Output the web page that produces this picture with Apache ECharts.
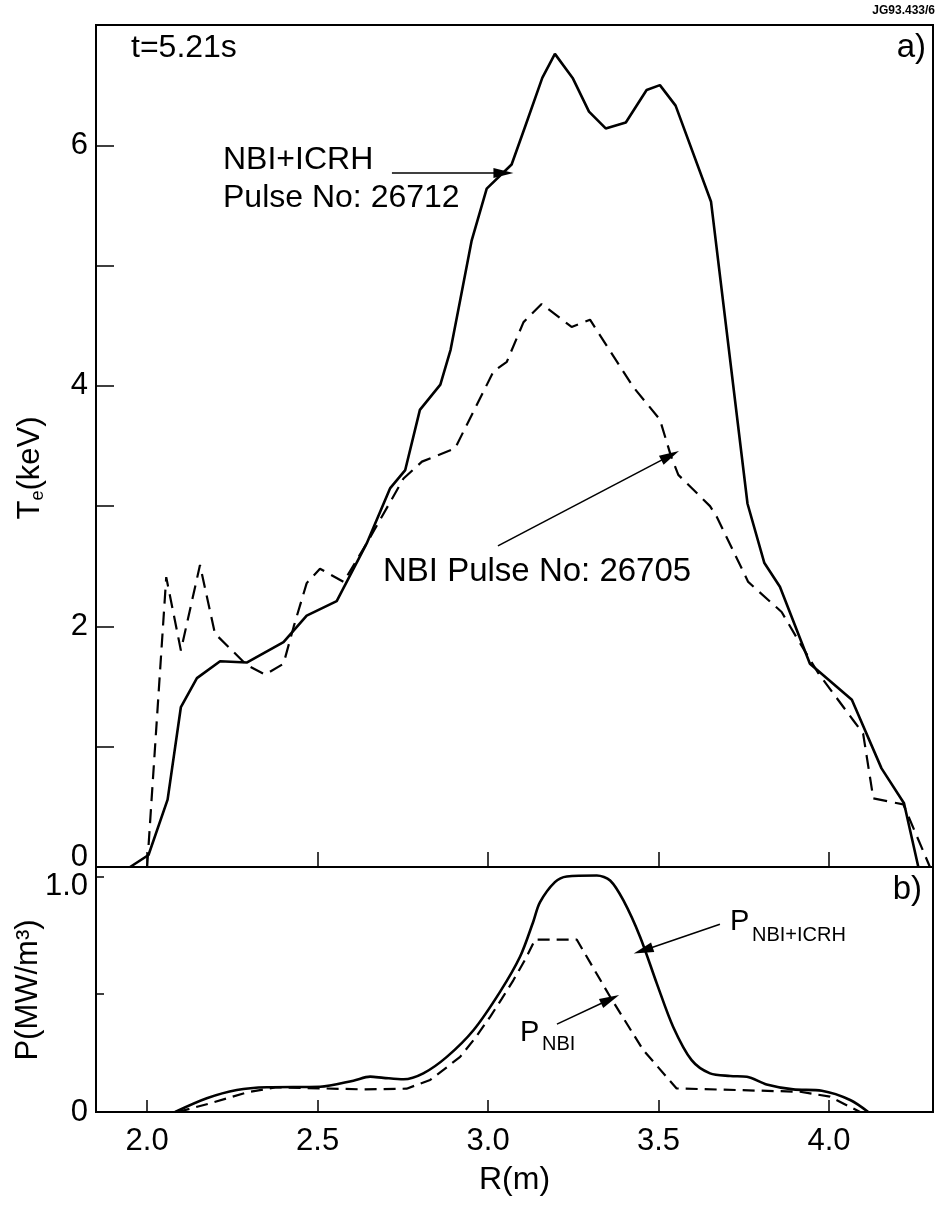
<!DOCTYPE html>
<html>
<head>
<meta charset="utf-8">
<script src="https://cdn.jsdelivr.net/npm/echarts@6/dist/echarts.min.js"></script>
<style>
html,body{margin:0;padding:0;background:#fff;}
#chart{width:937px;height:1205px;}
</style>
</head>
<body>
<div id="chart"></div>
<script>
// ---- data ----
// (a) electron temperature profiles
const R_ICRH  = [1.95, 2.004, 2.06, 2.099, 2.146, 2.214, 2.292, 2.40, 2.468, 2.556, 2.644, 2.713, 2.757, 2.80, 2.86, 2.89, 2.918, 2.952, 2.996, 3.069, 3.108, 3.159, 3.196, 3.248, 3.296, 3.345, 3.404, 3.465, 3.504, 3.55, 3.654, 3.761, 3.81, 3.856, 3.944, 4.067, 4.154, 4.22, 4.262];
const TE_ICRH = [0.0, 0.10, 0.56, 1.33, 1.57, 1.71, 1.70, 1.87, 2.09, 2.21, 2.69, 3.15, 3.30, 3.80, 4.01, 4.30, 4.71, 5.21, 5.64, 5.84, 6.15, 6.56, 6.76, 6.56, 6.28, 6.14, 6.19, 6.46, 6.50, 6.33, 5.53, 3.02, 2.53, 2.33, 1.69, 1.39, 0.82, 0.53, 0.0];

const R_NBI  = [2.0, 2.056, 2.099, 2.155, 2.199, 2.292, 2.346, 2.40, 2.43, 2.468, 2.507, 2.576, 2.644, 2.752, 2.806, 2.903, 3.016, 3.055, 3.104, 3.157, 3.245, 3.299, 3.426, 3.504, 3.536, 3.558, 3.651, 3.671, 3.763, 3.861, 3.915, 3.969, 4.071, 4.10, 4.13, 4.218, 4.296];
const TE_NBI = [0.0, 2.41, 1.80, 2.51, 1.94, 1.68, 1.60, 1.69, 2.00, 2.36, 2.48, 2.37, 2.69, 3.23, 3.37, 3.48, 4.12, 4.20, 4.53, 4.68, 4.49, 4.55, 3.99, 3.72, 3.42, 3.26, 3.00, 2.91, 2.37, 2.12, 1.86, 1.61, 1.22, 1.11, 0.57, 0.52, 0.0];

// (b) power deposition profiles
const RP_ICRH = [2.082, 2.175, 2.263, 2.351, 2.507, 2.605, 2.654, 2.693, 2.752, 2.81, 2.879, 2.957, 3.035, 3.094, 3.133, 3.152, 3.196, 3.231, 3.319, 3.358, 3.397, 3.446, 3.495, 3.543, 3.597, 3.651, 3.71, 3.759, 3.817, 3.895, 3.979, 4.062, 4.115];
const P_ICRH  = [0.0, 0.058, 0.093, 0.105, 0.107, 0.133, 0.150, 0.145, 0.139, 0.164, 0.234, 0.347, 0.51, 0.66, 0.81, 0.89, 0.976, 1.0, 1.004, 0.983, 0.898, 0.743, 0.545, 0.361, 0.22, 0.164, 0.153, 0.150, 0.117, 0.096, 0.09, 0.051, 0.0];

const RP_NBI = [2.09, 2.185, 2.292, 2.38, 2.517, 2.634, 2.761, 2.83, 2.87, 2.918, 2.96, 3.006, 3.04, 3.074, 3.11, 3.138, 3.26, 3.358, 3.455, 3.553, 3.915, 4.003, 4.091];
const P_NBI  = [0.0, 0.037, 0.083, 0.105, 0.10, 0.096, 0.099, 0.136, 0.18, 0.234, 0.31, 0.404, 0.48, 0.559, 0.65, 0.732, 0.732, 0.489, 0.263, 0.10, 0.086, 0.065, 0.0];

// tick values / labels
const R_TICKS   = [2.0, 2.5, 3.0, 3.5, 4.0];
const TE_TICKS  = [0, 1, 2, 3, 4, 5, 6];
const TE_LABELS = [0, 2, 4, 6];
const P_TICKS   = [0, 0.5, 1.0];
const P_LABELS  = [0, 1.0];

// ---- chart ----
const zip = (a, b) => a.map((v, i) => [v, b[i]]);
const FONT = '"Liberation Sans", Arial, Helvetica, sans-serif';
const BLACK = '#000';

function arrow(x1, y1, x2, y2) {
  return [
    { coord: [x1, y1], symbol: 'none' },
    { coord: [x2, y2], symbol: 'triangle', symbolSize: [10, 20] }
  ];
}
const markLineBase = {
  silent: true,
  animation: false,
  label: { show: false },
  lineStyle: { color: BLACK, width: 1.6, type: 'solid' },
  emphasis: { disabled: true }
};

const chart = echarts.init(document.getElementById('chart'), null, { renderer: 'canvas' });

const option = {
  animation: false,
  backgroundColor: '#fff',
  textStyle: { fontFamily: FONT, color: BLACK },
  grid: [
    { left: 96, right: 4, top: 25, height: 842, show: true, borderColor: BLACK, borderWidth: 2, containLabel: false },
    { left: 96, right: 4, top: 867, height: 245, show: true, borderColor: BLACK, borderWidth: 2, containLabel: false }
  ],
  xAxis: [
    {
      type: 'value', gridIndex: 0, min: 1.85, max: 4.305,
      axisLine: { show: true, lineStyle: { color: BLACK, width: 2 } },
      axisTick: { show: true, inside: true, length: 15, customValues: R_TICKS, lineStyle: { color: BLACK, width: 1.5 } },
      axisLabel: { show: false },
      splitLine: { show: false }
    },
    {
      type: 'value', gridIndex: 1, min: 1.85, max: 4.305,
      axisLine: { show: true, lineStyle: { color: BLACK, width: 2 } },
      axisTick: { show: true, inside: true, length: 12, customValues: R_TICKS, lineStyle: { color: BLACK, width: 1.5 } },
      axisLabel: { show: true, customValues: R_TICKS, margin: 14, fontSize: 31, color: BLACK, fontFamily: FONT,
                   formatter: v => Number(v).toFixed(1) },
      splitLine: { show: false },
      name: 'R(m)', nameLocation: 'middle', nameGap: 52,
      nameTextStyle: { fontSize: 32, color: BLACK, fontFamily: FONT }
    }
  ],
  yAxis: [
    {
      type: 'value', gridIndex: 0, min: 0, max: 7,
      axisLine: { show: true, lineStyle: { color: BLACK, width: 2 } },
      axisTick: { show: true, inside: true, length: 18, customValues: TE_TICKS, lineStyle: { color: BLACK, width: 1.5 } },
      axisLabel: { show: true, customValues: TE_LABELS, margin: 8, fontSize: 31, color: BLACK, fontFamily: FONT,
                   formatter: v => v === 0 ? '{z|0}' : String(v),
                   rich: { z: { fontSize: 31, fontFamily: FONT, color: BLACK, padding: [0, 0, 20, 0] } } },
      splitLine: { show: false }
    },
    {
      type: 'value', gridIndex: 1, min: 0, max: 1.04,
      axisLine: { show: true, lineStyle: { color: BLACK, width: 2 } },
      axisTick: { show: true, inside: true, length: 8, customValues: P_TICKS, lineStyle: { color: BLACK, width: 1.5 } },
      axisLabel: { show: true, customValues: P_LABELS, margin: 8, fontSize: 31, color: BLACK, fontFamily: FONT,
                   formatter: v => v === 0 ? '0' : '{d|' + Number(v).toFixed(1) + '}',
                   rich: { d: { fontSize: 31, fontFamily: FONT, color: BLACK, padding: [20, 0, 0, 0] } } },
      splitLine: { show: false }
    }
  ],
  series: [
    {
      name: 'NBI+ICRH 26712', type: 'line', xAxisIndex: 0, yAxisIndex: 0,
      data: zip(R_ICRH, TE_ICRH), showSymbol: false, symbol: 'none',
      lineStyle: { color: BLACK, width: 2.6 },
      markLine: Object.assign({}, markLineBase, { data: [arrow(2.718, 5.77, 3.045, 5.77)] })
    },
    {
      name: 'NBI 26705', type: 'line', xAxisIndex: 0, yAxisIndex: 0,
      data: zip(R_NBI, TE_NBI), showSymbol: false, symbol: 'none',
      lineStyle: { color: BLACK, width: 2.2, type: [14, 8] },
      markLine: Object.assign({}, markLineBase, { data: [arrow(3.029, 2.67, 3.534, 3.42)] })
    },
    {
      name: 'P NBI+ICRH', type: 'line', xAxisIndex: 1, yAxisIndex: 1,
      data: zip(RP_ICRH, P_ICRH), showSymbol: false, symbol: 'none', smooth: 0.3,
      lineStyle: { color: BLACK, width: 2.6 },
      markLine: Object.assign({}, markLineBase, { data: [arrow(3.680, 0.797, 3.455, 0.686)] })
    },
    {
      name: 'P NBI', type: 'line', xAxisIndex: 1, yAxisIndex: 1,
      data: zip(RP_NBI, P_NBI), showSymbol: false, symbol: 'none',
      lineStyle: { color: BLACK, width: 2.2, type: [12, 7] },
      markLine: Object.assign({}, markLineBase, { data: [arrow(3.202, 0.373, 3.358, 0.479)] })
    }
  ],
  graphic: [
    { type: 'text', x: 30, y: 468, rotation: Math.PI / 2,
      style: { text: '{a|T}{b|e}{a|(keV)}', align: 'center', verticalAlign: 'middle',
               rich: { a: { fontSize: 31, fontFamily: FONT, fill: BLACK, lineHeight: 34 },
                       b: { fontSize: 18, fontFamily: FONT, fill: BLACK, lineHeight: 18, verticalAlign: 'bottom' } } } },
    { type: 'text', x: 28, y: 990, rotation: Math.PI / 2,
      style: { text: 'P(MW/m³)', align: 'center', verticalAlign: 'middle', fontSize: 31, fontFamily: FONT, fill: BLACK } },
    { type: 'text', x: 935, y: 11,
      style: { text: 'JG93.433/6', align: 'right', verticalAlign: 'middle', fontSize: 12, fontWeight: 'bold', fontFamily: FONT, fill: BLACK } },
    { type: 'text', x: 131, y: 48,
      style: { text: 't=5.21s', align: 'left', verticalAlign: 'middle', fontSize: 32, fontFamily: FONT, fill: BLACK } },
    { type: 'text', x: 926, y: 48,
      style: { text: 'a)', align: 'right', verticalAlign: 'middle', fontSize: 33, fontFamily: FONT, fill: BLACK } },
    { type: 'text', x: 922, y: 890,
      style: { text: 'b)', align: 'right', verticalAlign: 'middle', fontSize: 33, fontFamily: FONT, fill: BLACK } },
    { type: 'text', x: 223, y: 160,
      style: { text: 'NBI+ICRH', align: 'left', verticalAlign: 'middle', fontSize: 32, fontFamily: FONT, fill: BLACK } },
    { type: 'text', x: 223, y: 198,
      style: { text: 'Pulse No: 26712', align: 'left', verticalAlign: 'middle', fontSize: 32, fontFamily: FONT, fill: BLACK } },
    { type: 'text', x: 383, y: 572,
      style: { text: 'NBI Pulse No: 26705', align: 'left', verticalAlign: 'middle', fontSize: 33, fontFamily: FONT, fill: BLACK } },
    { type: 'text', x: 730, y: 922,
      style: { text: 'P', align: 'left', verticalAlign: 'middle', fontSize: 29, fontFamily: FONT, fill: BLACK } },
    { type: 'text', x: 752, y: 935,
      style: { text: 'NBI+ICRH', align: 'left', verticalAlign: 'middle', fontSize: 20, fontFamily: FONT, fill: BLACK } },
    { type: 'text', x: 520, y: 1033,
      style: { text: 'P', align: 'left', verticalAlign: 'middle', fontSize: 29, fontFamily: FONT, fill: BLACK } },
    { type: 'text', x: 542, y: 1044,
      style: { text: 'NBI', align: 'left', verticalAlign: 'middle', fontSize: 20, fontFamily: FONT, fill: BLACK } }
  ]
};
chart.setOption(option);
</script>
</body>
</html>
